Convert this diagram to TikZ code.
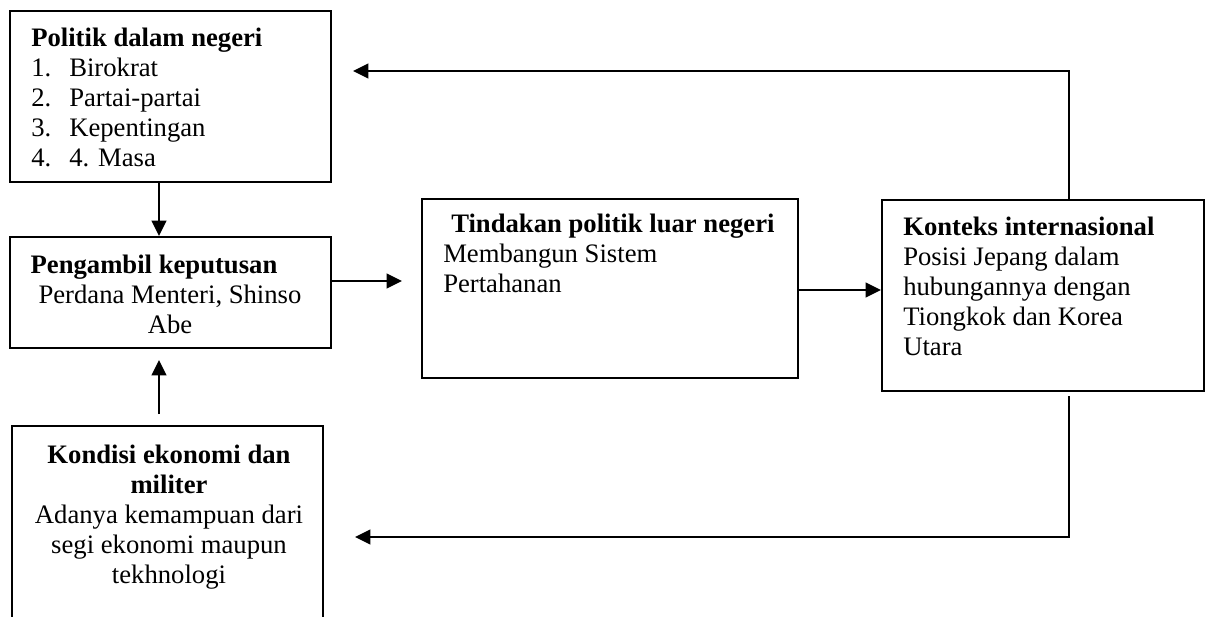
\documentclass[tikz,border=0pt]{standalone}
\usepackage{fontspec}
\setmainfont{Liberation Serif}
\usetikzlibrary{arrows.meta,fit}
\newcommand{\tl}[1]{\begin{tabular}[t]{@{}l@{}}#1\end{tabular}}
\newcommand{\tc}[1]{\begin{tabular}[t]{@{}c@{}}#1\end{tabular}}
\begin{document}
\begin{tikzpicture}[x=0.75pt,y=-0.75pt,
  box/.style={draw, line width=1.5pt, inner sep=0pt},
  txt/.style={inner sep=0pt, font=\fontsize{20}{22.5}\selectfont},
  conn/.style={line width=1.3pt, -{Triangle[length=11.5pt,width=11pt]}}]
\clip (0,0) rectangle (1208,617);
\fill[white] (0,0) rectangle (1208,617);
% helper coordinates
\coordinate (xl) at (159,0);
\coordinate (xr) at (1069,0);
\coordinate (yt) at (0,71);
\coordinate (yb) at (0,537);
\coordinate (ya) at (0,281);
\coordinate (yc) at (0,290);
% boxes
\node[box, fit={(10,11) (331,182)}] (b1) {};
\node[box, fit={(10,237) (331,348)}] (b2) {};
\node[box, fit={(12,426) (323,660)}] (b3) {};
\node[box, fit={(422,199) (798,378)}] (b4) {};
\node[box, fit={(882,200) (1204,391)}] (b5) {};
% texts
\node[txt, anchor=base west] (t1) at (31,47)
  {\tl{\textbf{Politik dalam negeri}\\
   \makebox[28.5pt][l]{1.}Birokrat\\
   \makebox[28.5pt][l]{2.}Partai-partai\\
   \makebox[28.5pt][l]{3.}Kepentingan\\
   \makebox[28.5pt][l]{4.}4. Masa}};
\node[txt, anchor=base] (t2) at (170,273)
  {\tc{\textbf{Pengambil keputusan}\hspace*{24pt}\\
   Perdana Menteri, Shinso\\
   Abe}};
\node[txt, anchor=base] (t3) at (169,463)
  {\tc{\textbf{Kondisi ekonomi dan}\\
   \textbf{militer}\\
   Adanya kemampuan dari\\
   segi ekonomi maupun\\
   tekhnologi}};
\node[txt, anchor=base west] (t4) at (443,233)
  {\tl{\hspace*{6pt}\textbf{Tindakan politik luar negeri}\\
   Membangun Sistem\\
   Pertahanan}};
\node[txt, anchor=base west] (t5) at (903,235)
  {\tl{\textbf{Konteks internasional}\\
   Posisi Jepang dalam\\
   hubungannya dengan\\
   Tiongkok dan Korea\\
   Utara}};
% connectors
\draw[conn] (b1.south -| xl) -- (b2.north -| xl);
\draw[conn, shorten <=8.25pt, shorten >=8.25pt] (b3.north -| xl) -- (b2.south -| xl);
\draw[conn, shorten >=14.25pt] (b2.east |- ya) -- (b4.west |- ya);
\draw[conn] (b4.east |- yc) -- (b5.west |- yc);
\draw[conn, shorten >=15.75pt] (b5.north -| xr) |- (b1.east |- yt);
\draw[conn, shorten <=3pt, shorten >=23.25pt] (b5.south -| xr) |- (b3.east |- yb);
\end{tikzpicture}
\end{document}
